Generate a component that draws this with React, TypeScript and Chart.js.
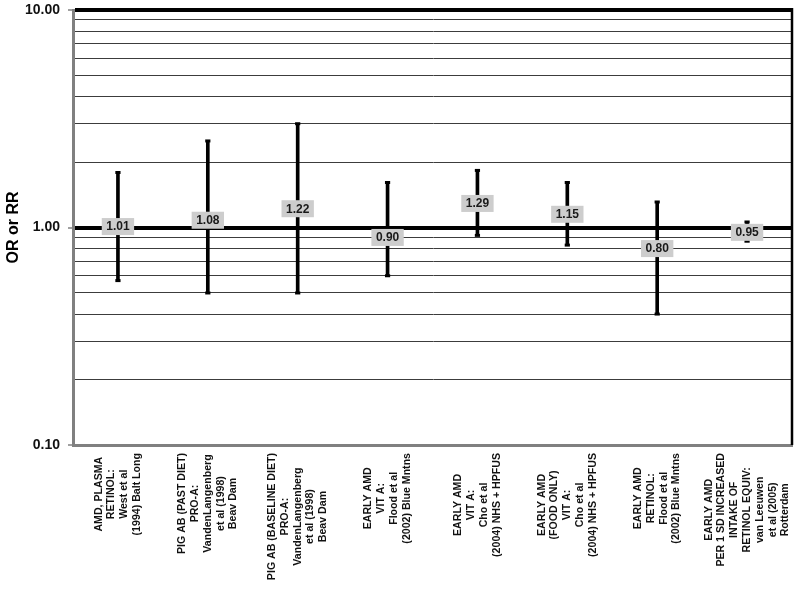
import React, { useEffect, useRef } from "react";
import { Chart, registerables } from "chart.js";

Chart.register(...registerables);

const CATEGORIES: string[][] = [
  ["AMD, PLASMA", "RETINOL:", "West et al", "(1994) Balt Long"],
  ["PIG AB (PAST DIET)", "PRO-A:", "VandenLangenberg", "et al (1998)", "Beav Dam"],
  ["PIG AB (BASELINE DIET)", "PRO-A:", "VandenLangenberg", "et al (1998)", "Beav Dam"],
  ["EARLY AMD", "VIT A:", "Flood et al", "(2002) Blue Mntns"],
  ["EARLY AMD", "VIT A:", "Cho et al", "(2004) NHS + HPFUS"],
  ["EARLY AMD", "(FOOD ONLY)", "VIT A:", "Cho et al", "(2004) NHS + HPFUS"],
  ["EARLY AMD", "RETINOL:", "Flood et al", "(2002) Blue Mntns"],
  ["EARLY AMD", "PER 1 SD INCREASED", "INTAKE OF", "RETINOL EQUIV:", "van Leeuwen", "et al (2005)", "Rotterdam"],
];

const ESTIMATES: number[] = [1.01, 1.08, 1.22, 0.9, 1.29, 1.15, 0.8, 0.95];
const LOWER: number[] = [0.57, 0.5, 0.5, 0.6, 0.92, 0.83, 0.4, 0.865];
const UPPER: number[] = [1.79, 2.5, 3.0, 1.61, 1.83, 1.61, 1.31, 1.06];

const GRID_VALUES: number[] = [
  0.1, 0.2, 0.3, 0.4, 0.5, 0.6, 0.7, 0.8, 0.9,
  1, 2, 3, 4, 5, 6, 7, 8, 9, 10,
];
const LABELED_TICKS: number[] = [0.1, 1, 10];
const Y_TITLE = "OR or RR";

const FONT = '"Liberation Sans", Arial, Helvetica, sans-serif';

const isMajor = (v: number) => LABELED_TICKS.some((m) => Math.abs(m - v) < 1e-9);

const overlayPlugin = {
  id: "overlay",
  afterDatasetsDraw(chart: any) {
    const { ctx, chartArea } = chart;
    const xs = chart.scales.x;
    const ys = chart.scales.y;
    // right frame line
    ctx.save();
    ctx.strokeStyle = "#000";
    ctx.lineWidth = 2.5;
    ctx.beginPath();
    ctx.moveTo(chartArea.right, chartArea.top - 2);
    ctx.lineTo(chartArea.right, chartArea.bottom);
    ctx.stroke();
    ctx.restore();

    // value labels
    ctx.save();
    ctx.font = `bold 12px ${FONT}`;
    ctx.textAlign = "center";
    ctx.textBaseline = "middle";
    ESTIMATES.forEach((v, i) => {
      const x = xs.getPixelForValue(i);
      const y = ys.getPixelForValue(v);
      const text = v.toFixed(2);
      const w = ctx.measureText(text).width + 9;
      const h = 17;
      ctx.fillStyle = "#cdcdcd";
      ctx.fillRect(x - w / 2, y - h / 2, w, h);
      ctx.fillStyle = "#1a1a1a";
      ctx.fillText(text, x, y + 0.5);
    });
    ctx.restore();

    // category labels (rotated, centered lines)
    ctx.save();
    ctx.font = `bold 10.6px ${FONT}`;
    ctx.fillStyle = "#111";
    ctx.textAlign = "center";
    ctx.textBaseline = "middle";
    const lh = 12.8;
    const top = chartArea.bottom + 8;
    CATEGORIES.forEach((lines, i) => {
      const cx = xs.getPixelForValue(i);
      const maxW = Math.max(...lines.map((l) => ctx.measureText(l).width));
      const cy = top + maxW / 2;
      const n = lines.length;
      lines.forEach((line, j) => {
        const lx = cx + (j - (n - 1) / 2) * lh;
        ctx.save();
        ctx.translate(lx, cy);
        ctx.rotate(-Math.PI / 2);
        ctx.fillText(line, 0, 0);
        ctx.restore();
      });
    });
    ctx.restore();
  },
};

export default function App() {
  const canvasRef = useRef<HTMLCanvasElement | null>(null);

  useEffect(() => {
    document.body.style.margin = "0";
    const canvas = canvasRef.current;
    if (!canvas) return;
    const chart = new Chart(canvas, {
      type: "bar",
      data: {
        labels: CATEGORIES.map((c) => c.join(" ")),
        datasets: [
          {
            type: "bar",
            data: LOWER.map((l, i) => [l, UPPER[i]]) as any,
            backgroundColor: "#000",
            borderWidth: 0,
            barThickness: 3,
          } as any,
          {
            type: "line",
            data: UPPER,
            showLine: false,
            pointStyle: "line",
            pointRadius: 2.6,
            pointBorderWidth: 3,
            pointBorderColor: "#000",
            borderColor: "#000",
          } as any,
          {
            type: "line",
            data: LOWER,
            showLine: false,
            pointStyle: "line",
            pointRadius: 2.6,
            pointBorderWidth: 3,
            pointBorderColor: "#000",
            borderColor: "#000",
          } as any,
        ],
      },
      options: {
        responsive: false,
        animation: false,
        layout: { padding: { top: 10, right: 8, bottom: 0, left: 0 } },
        plugins: {
          legend: { display: false },
          tooltip: { enabled: false },
        },
        scales: {
          x: {
            type: "category",
            offset: true,
            grid: { display: false },
            ticks: { display: false },
            border: { display: true, color: "#808080", width: 3 },
            afterFit: (s: any) => {
              s.height = 144;
              s.paddingLeft = 0;
              s.paddingRight = 0;
            },
          },
          y: {
            type: "logarithmic",
            min: 0.1,
            max: 10,
            afterBuildTicks: (s: any) => {
              s.ticks = GRID_VALUES.map((v) => ({ value: v }));
            },
            afterFit: (s: any) => {
              s.width = 73;
              s.paddingTop = 0;
              s.paddingBottom = 0;
            },
            ticks: {
              autoSkip: false,
              padding: 8,
              color: "#111",
              font: { family: FONT, size: 14, weight: "bold" },
              callback: (value: any) => (isMajor(Number(value)) ? Number(value).toFixed(2) : ""),
            },
            grid: {
              drawTicks: true,
              tickLength: 5,
              tickWidth: 1.5,
              tickColor: (ctx: any) => (ctx.tick && isMajor(ctx.tick.value) ? "#808080" : "rgba(0,0,0,0)"),
              color: (ctx: any) => {
                const v = ctx.tick ? ctx.tick.value : 0;
                if (Math.abs(v - 0.1) < 1e-9) return "rgba(0,0,0,0)";
                return isMajor(v) ? "#000" : "#3c3c3c";
              },
              lineWidth: (ctx: any) => {
                const v = ctx.tick ? ctx.tick.value : 0;
                if (Math.abs(v - 0.1) < 1e-9) return 0;
                return isMajor(v) ? 4 : 1;
              },
            },
            border: { display: true, color: "#808080", width: 3 },
            title: {
              display: true,
              text: Y_TITLE,
              color: "#000",
              font: { family: FONT, size: 16, weight: "bold" },
            },
          },
        },
      },
      plugins: [overlayPlugin],
    } as any);
    return () => chart.destroy();
  }, []);

  return (
    <div style={{ width: 800, height: 589, background: "#fff" }}>
      <canvas ref={canvasRef} width={800} height={589} style={{ display: "block" }} />
    </div>
  );
}
